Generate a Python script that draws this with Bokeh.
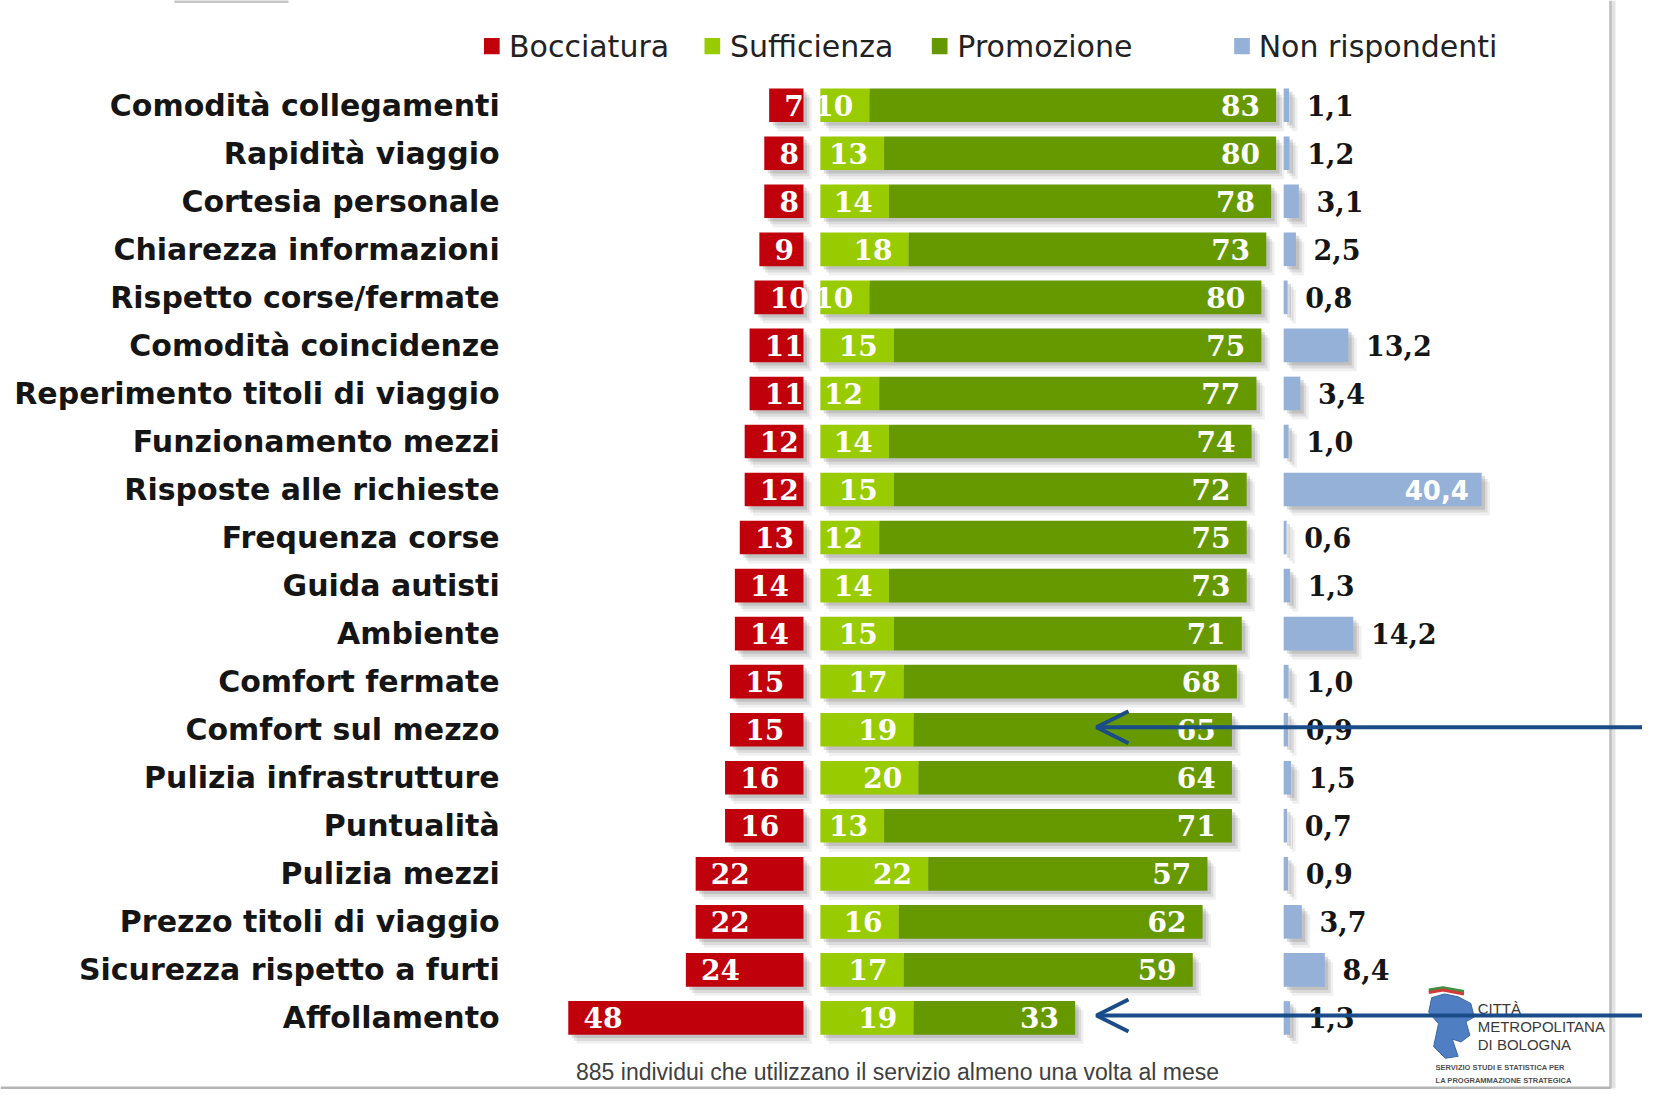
from bokeh.plotting import figure
from bokeh.models import Range1d, ColumnDataSource, Arrow, OpenHead
from bokeh.core.properties import value
from bokeh.embed import file_html
from bokeh.resources import INLINE

# ---------------- data ----------------
categories = [
    "Comodità collegamenti", "Rapidità viaggio", "Cortesia personale",
    "Chiarezza informazioni", "Rispetto corse/fermate", "Comodità coincidenze",
    "Reperimento titoli di viaggio", "Funzionamento mezzi", "Risposte alle richieste",
    "Frequenza corse", "Guida autisti", "Ambiente", "Comfort fermate",
    "Comfort sul mezzo", "Pulizia infrastrutture", "Puntualità", "Pulizia mezzi",
    "Prezzo titoli di viaggio", "Sicurezza rispetto a furti", "Affollamento",
]
bocciatura = [7, 8, 8, 9, 10, 11, 11, 12, 12, 13, 14, 14, 15, 15, 16, 16, 22, 22, 24, 48]
sufficienza = [10, 13, 14, 18, 10, 15, 12, 14, 15, 12, 14, 15, 17, 19, 20, 13, 22, 16, 17, 19]
promozione = [83, 80, 78, 73, 80, 75, 77, 74, 72, 75, 73, 71, 68, 65, 64, 71, 57, 62, 59, 33]
non_rispondenti = [1.1, 1.2, 3.1, 2.5, 0.8, 13.2, 3.4, 1.0, 40.4, 0.6, 1.3, 14.2, 1.0, 0.9,
                   1.5, 0.7, 0.9, 3.7, 8.4, 1.3]
legend_labels = ["Bocciatura", "Sufficienza", "Promozione", "Non rispondenti"]
footnote = "885 individui che utilizzano il servizio almeno una volta al mese"
highlighted = ["Comfort sul mezzo", "Affollamento"]
logo_lines = ["CITTÀ", "METROPOLITANA", "DI BOLOGNA"]
logo_sub = ["SERVIZIO STUDI E STATISTICA PER", "LA PROGRAMMAZIONE STRATEGICA"]

# ---------------- style / layout ----------------
RED = "#C0000B"
LGREEN = "#99CC00"
DGREEN = "#669900"
BLUE = "#95B1D8"
ARROW = "#1B4C8A"
W, H = 1642, 1089
X0, X1 = -163.87, 171.23
Y_BOTTOM, Y_TOP = 20.49, -2.18
GAP = 3.45       # gap between red and green blocks (in %)
NR0 = 98.0       # origin of the "non rispondenti" block
BAR_H = 0.70

n = len(categories)
idx = list(range(n))
suff_end = [GAP + s for s in sufficienza]
prom_end = [GAP + s + pr for s, pr in zip(sufficienza, promozione)]
nr_end = [NR0 + v for v in non_rispondenti]

src = ColumnDataSource(dict(
    y=idx, cat=categories,
    b_left=[-b for b in bocciatura], zero=[0] * n,
    g0=[GAP] * n, s_end=suff_end, p_end=prom_end,
    nr0=[NR0] * n, nr_end=nr_end,
))

p = figure(width=W, height=H, x_range=Range1d(X0, X1), y_range=Range1d(Y_BOTTOM, Y_TOP),
           output_backend="svg", toolbar_location=None, min_border=0)
p.axis.visible = False
p.grid.visible = False
p.outline_line_color = None
p.background_fill_color = "white"
p.border_fill_color = "white"

# shadows
for dx, dy, a in [(1.7, 0.19, 0.10), (1.2, 0.13, 0.16), (0.7, 0.07, 0.24)]:
    shadow = ColumnDataSource(dict(
        y=[i + dy for i in idx] * 3,
        left=[-b + dx for b in bocciatura] + [GAP + dx] * n + [NR0 + dx] * n,
        right=[dx] * n + [e + dx for e in prom_end] + [e + dx for e in nr_end],
    ))
    p.hbar(y="y", left="left", right="right", height=BAR_H, source=shadow,
           fill_color="#707070", fill_alpha=a, line_color=None)

# bars
p.hbar(y="y", left="b_left", right="zero", height=BAR_H, source=src, fill_color=RED, line_color=None)
p.hbar(y="y", left="g0", right="s_end", height=BAR_H, source=src, fill_color=LGREEN, line_color=None)
p.hbar(y="y", left="s_end", right="p_end", height=BAR_H, source=src, fill_color=DGREEN, line_color=None)
p.hbar(y="y", left="nr0", right="nr_end", height=BAR_H, source=src, fill_color=BLUE, line_color=None)

# category labels
p.text(x=[-62.0] * n, y=idx, text=categories, text_align="right", text_baseline="middle",
       text_font=value("DejaVu Sans"), text_font_style="bold", text_font_size="30px",
       text_color="#151515")

num_font = dict(text_font=value("DejaVu Serif"), text_font_style="bold", text_font_size="28px",
                text_baseline="middle")
# red labels (inside, at outer end)
p.text(x=[-b + 3.1 for b in bocciatura], y=idx, text=[str(b) for b in bocciatura],
       text_align="left", text_color="white", **num_font)
# light green labels
p.text(x=[e - 3.3 for e in suff_end], y=idx, text=[str(s) for s in sufficienza],
       text_align="right", text_color="white", **num_font)
# dark green labels
p.text(x=[e - 3.3 for e in prom_end], y=idx, text=[str(v) for v in promozione],
       text_align="right", text_color="white", **num_font)
# non rispondenti labels
nr_txt = [f"{v:.1f}".replace(".", ",") for v in non_rispondenti]
vmax = max(non_rispondenti)
out_i = [i for i, v in enumerate(non_rispondenti) if v < vmax]
in_i = [i for i, v in enumerate(non_rispondenti) if v == vmax]
p.text(x=[nr_end[i] + 3.6 for i in out_i], y=out_i, text=[nr_txt[i] for i in out_i],
       text_align="left", text_color="#151515",
       text_font=value("DejaVu Serif"), text_font_style="bold", text_font_size="27px",
       text_baseline="middle")
p.text(x=[nr_end[i] - 2.6 for i in in_i], y=in_i, text=[nr_txt[i] for i in in_i],
       text_align="right", text_color="white",
       text_font=value("DejaVu Sans"), text_font_style="bold", text_font_size="26px",
       text_baseline="middle")

# legend
leg_colors = [RED, LGREEN, DGREEN, BLUE]
leg_sq_x = [-63.6, -18.6, 27.8, 89.5]
leg_tx_x = [-60.1, -15.0, 31.4, 92.9]
p.rect(x=leg_sq_x, y=[-1.23] * 4, width=3.2, height=0.34, fill_color=leg_colors, line_color=None)
p.text(x=leg_tx_x, y=[-1.23] * 4, text=legend_labels, text_align="left", text_baseline="middle",
       text_font=value("DejaVu Sans"), text_font_size="30px", text_color="#222222")

# footnote
p.text(x=[19.2], y=[20.12], text=[footnote], text_align="center", text_baseline="middle",
       text_font=value("Liberation Sans"), text_font_size="23px", text_color="#404040")

# frame lines (screenshot border)
p.line(x=[165.3, 165.3], y=[Y_TOP, 20.47], line_color="#e2e2e2", line_width=4)
p.line(x=[164.7, 164.7], y=[Y_TOP, 20.47], line_color="#bdbdbd", line_width=2.5)
p.line(x=[X0, 164.7], y=[20.46, 20.46], line_color="#b5b5b5", line_width=3)
p.line(x=[-128.4, -105.1], y=[-2.16, -2.16], line_color="#c8c8c8", line_width=3)

# logo
lion_x = [128.2, 130.8, 133.6, 136.2, 136.9, 135.2, 136.0, 134.2, 132.4, 133.6, 131.0,
          128.6, 129.6, 127.6]
lion_y = [18.58, 18.50, 18.56, 18.70, 18.98, 19.08, 19.36, 19.50, 19.44, 19.80, 19.84,
          19.60, 19.12, 18.88]
p.patch(lion_x, lion_y, fill_color="#4F7FC2", line_color="#3A68A8", line_width=1)
p.line(x=[127.6, 130.5, 134.8], y=[18.42, 18.37, 18.45], line_color="#3f8f3f", line_width=3)
p.line(x=[127.6, 130.5, 134.8], y=[18.47, 18.42, 18.50], line_color="#d23b3b", line_width=3)
p.text(x=[137.6] * 3, y=[18.80, 19.18, 19.56], text=logo_lines, text_align="left",
       text_baseline="middle", text_font=value("Liberation Sans"),
       text_font_size="15px", text_color="#3a3a3a")
p.text(x=[129.0] * 2, y=[20.04, 20.30], text=logo_sub, text_align="left",
       text_baseline="middle", text_font=value("Liberation Sans"),
       text_font_size="7.5px", text_font_style="bold", text_color="#505050")

# arrows pointing at highlighted rows
for cat in highlighted:
    r = categories.index(cat) - 0.05
    p.add_layout(Arrow(end=OpenHead(size=32, line_color=ARROW, line_width=4),
                       x_start=X1, y_start=r, x_end=59.8, y_end=r,
                       line_color=ARROW, line_width=4))

open("out.html", "w").write(file_html(p, INLINE))
